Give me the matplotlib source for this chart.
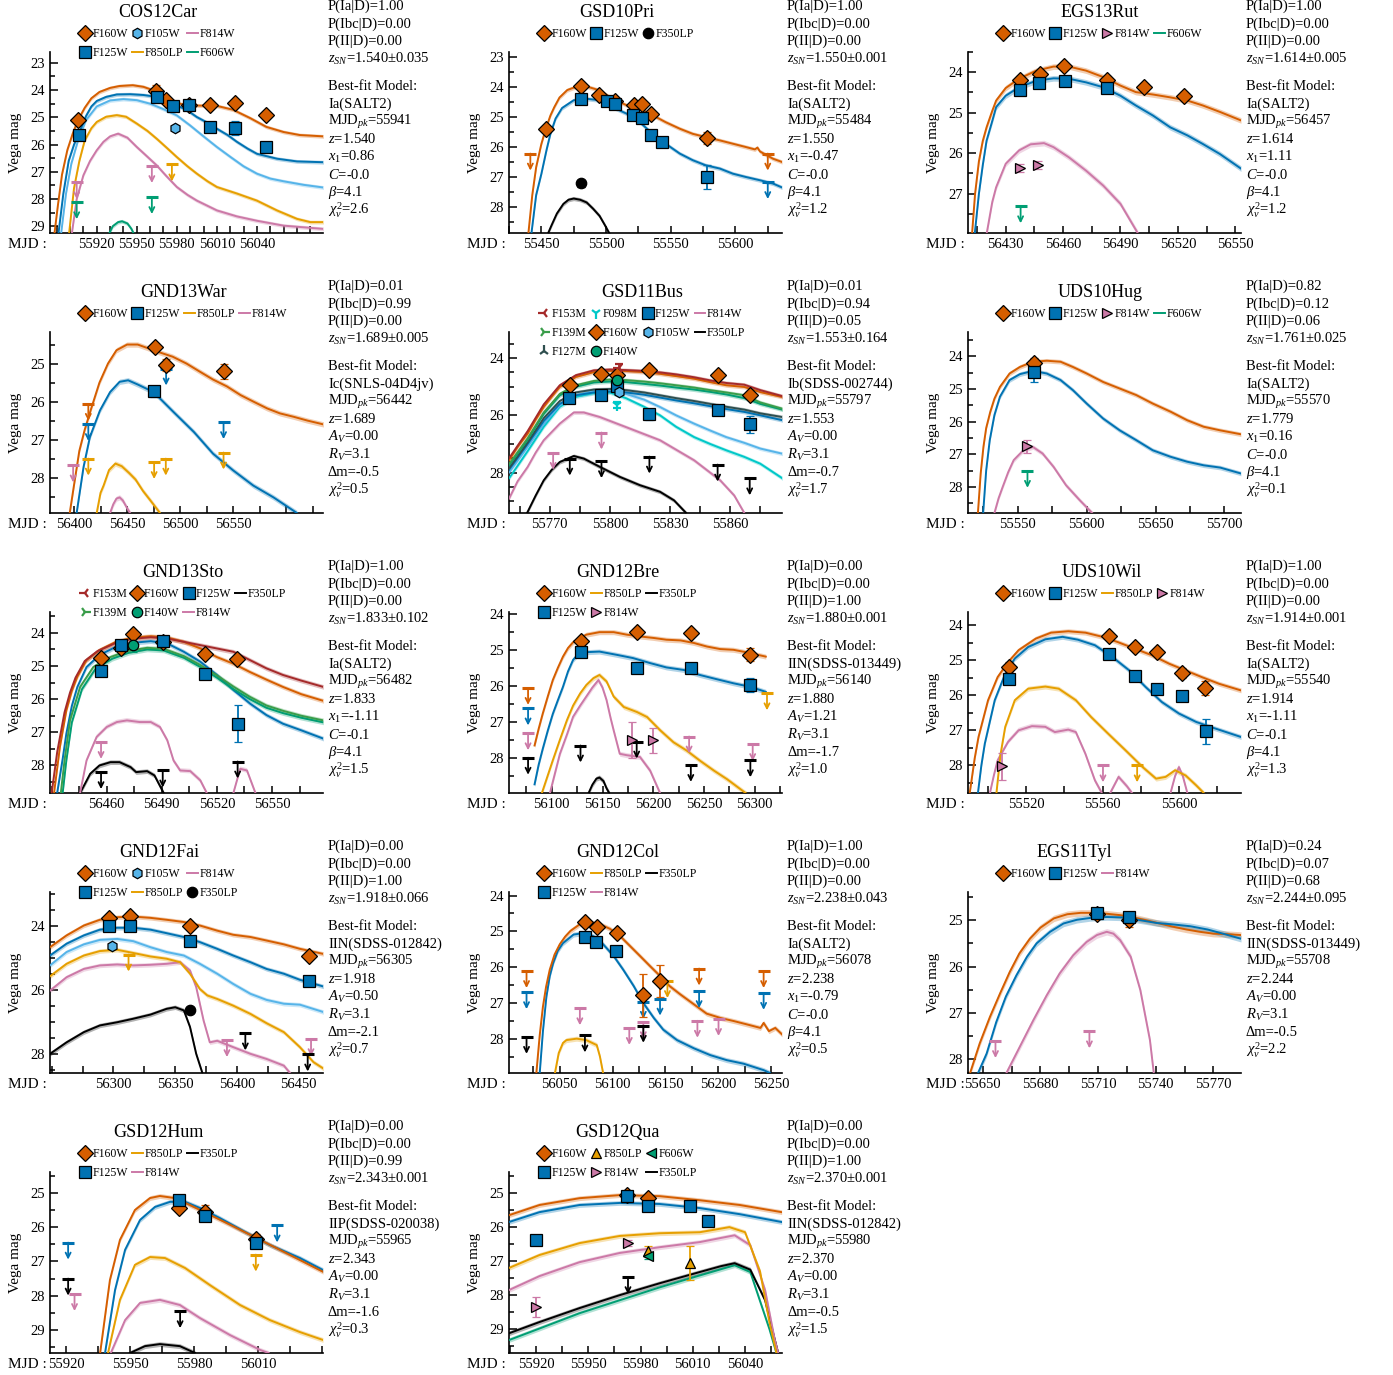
import numpy as np
import matplotlib
matplotlib.use("Agg")
import matplotlib.pyplot as plt
from matplotlib.lines import Line2D
from matplotlib.ticker import MultipleLocator, FixedLocator

nan = np.nan

# ---------------- COS12Car ----------------
CAR_F160W = [(55888, 29.4), (55891, 28.2), (55894, 27.1), (55898, 26.2), (55902, 25.6), (55906, 25.1), (55911, 24.65),
             (55916, 24.3), (55922, 24.07), (55930, 23.92), (55937, 23.85), (55947, 23.82), (55955, 23.88), (55962, 24.0),
             (55970, 24.25), (55978, 24.45), (55987, 24.55), (55997, 24.57), (56010, 24.58), (56022, 24.72), (56035, 25.03),
             (56047, 25.35), (56060, 25.54), (56072, 25.65), (56090, 25.7)]
CAR_F125W = [(55891, 29.4), (55895, 27.8), (55899, 26.6), (55903, 26.0), (55907, 25.55), (55912, 24.95), (55916, 24.6),
             (55920, 24.4), (55927, 24.25), (55935, 24.16), (55945, 24.15), (55955, 24.18), (55965, 24.25), (55972, 24.38),
             (55980, 24.56), (55988, 24.75), (55995, 24.99), (56003, 25.2), (56010, 25.42), (56018, 25.65), (56025, 25.9),
             (56033, 26.15), (56040, 26.34), (56055, 26.52), (56070, 26.62), (56090, 26.65)]
CAR_F105W = [(55893, 29.4), (55897, 27.8), (55901, 26.7), (55906, 25.85), (55912, 25.1), (55920, 24.6), (55930, 24.38),
             (55940, 24.33), (55950, 24.37), (55960, 24.5), (55970, 24.7), (55980, 24.93), (55990, 25.3), (56000, 25.7),
             (56010, 26.09), (56020, 26.45), (56030, 26.8), (56040, 27.07), (56050, 27.25), (56060, 27.35), (56075, 27.48),
             (56090, 27.58)]
CAR_F850LP = [(55899, 29.4), (55903, 27.6), (55907, 26.6), (55911, 25.85), (55916, 25.4), (55920, 25.17), (55927, 24.98),
              (55935, 24.92), (55942, 24.98), (55950, 25.23), (55958, 25.5), (55965, 25.79), (55972, 26.1), (55980, 26.46),
              (55988, 26.8), (55995, 27.07), (56003, 27.35), (56010, 27.56), (56025, 27.8), (56040, 28.06), (56055, 28.42),
              (56070, 28.73), (56080, 28.85), (56090, 28.85)]
CAR_F814W = [(55901, 29.4), (55905, 28.0), (55910, 27.13), (55915, 26.6), (55920, 26.21), (55925, 25.9), (55930, 25.7),
             (55936, 25.6), (55943, 25.75), (55950, 26.09), (55958, 26.45), (55965, 26.77), (55972, 27.15), (55980, 27.56),
             (55988, 27.85), (55995, 28.06), (56010, 28.42), (56025, 28.64), (56040, 28.8), (56060, 28.98), (56090, 29.1)]
CAR_F606W = [(55929, 29.3), (55932, 29.0), (55936, 28.85), (55939, 28.82), (55943, 28.9), (55946, 29.1), (55948, 29.3)]
CAR_PTS_F160W = [(55906.3, 25.11, 0.08), (55964.5, 24.03, 0.2), (55971.8, 24.35, 0.08), (55989.3, 24.53, 0.08),
                 (56004.5, 24.53, 0.08), (56023.3, 24.47, 0.08), (56046.8, 24.9, 0.08)]
CAR_PTS_F125W = [(55906.8, 25.64, 0.1), (55965, 24.25, 0.2), (55976.8, 24.6, 0.08), (55988.8, 24.56, 0.1),
                 (56005, 25.36, 0.08), (56023.8, 25.39, 0.25), (56046.8, 26.09, 0.08)]
CAR_PTS_F105W = [(55978.8, 25.38, 0.05)]
CAR_LIM = [("F814W", 55905, 27.38), ("F814W", 55961.3, 26.79), ("F850LP", 55976.3, 26.73),
           ("F606W", 55905, 28.12), ("F606W", 55961.3, 27.93)]
CAR_XT = [55920, 55950, 55980, 56010, 56040]
CAR_TEXT = ["P(Ia|D)=1.00", "P(Ibc|D)=0.00", "P(II|D)=0.00", r"$z_{SN}$=1.540±0.035", "Best-fit Model:", "Ia(SALT2)",
            r"MJD$_{pk}$=55941", r"$z$=1.540", r"$x_1$=0.86", r"$\mathit{C}$=-0.0", r"$\beta$=4.1", r"$\chi^2_\nu$=2.6"]

# ---------------- GSD10Pri ----------------
PRI_F160W = [(55439.7, 29.0), (55443, 27.6), (55446, 26.67), (55450, 25.9), (55453.4, 25.4), (55457, 24.95), (55460, 24.67),
             (55464, 24.35), (55470, 24.1), (55475, 24.02), (55485, 23.98), (55495, 24.11), (55505, 24.39), (55516, 24.61),
             (55526, 24.72), (55536, 24.94), (55546, 25.17), (55557, 25.39), (55567, 25.56), (55577, 25.67), (55588, 25.78),
             (55598, 25.89), (55608, 26.0), (55615, 26.08), (55617, 26.02), (55619, 26.15), (55629, 26.39), (55636, 26.5)]
PRI_F125W = [(55442, 29.0), (55446, 27.6), (55450, 26.9), (55454, 26.1), (55457, 25.56), (55461, 25.05), (55466, 24.7),
             (55475, 24.44), (55485, 24.39), (55495, 24.44), (55505, 24.67), (55516, 24.89), (55526, 25.17), (55536, 25.56),
             (55546, 25.89), (55557, 26.22), (55567, 26.44), (55577, 26.61), (55588, 26.72), (55598, 26.89), (55608, 27.0),
             (55619, 27.11), (55629, 27.22), (55636, 27.35)]
PRI_F350LP = [(55454, 29.0), (55458, 28.6), (55462, 28.22), (55467, 27.9), (55471, 27.76), (55475, 27.72), (55480, 27.76),
              (55485, 27.85), (55490, 28.06), (55495, 28.3), (55499, 28.6), (55504, 29.0)]
PRI_PTS_F160W = [(55453.4, 25.4, 0.08), (55480.3, 23.98, 0.08), (55494.7, 24.28, 0.08), (55506.8, 24.48, 0.08),
                 (55521.6, 24.61, 0.08), (55527.5, 24.56, 0.08), (55534.8, 24.89, 0.08), (55577.9, 25.7, 0.2)]
PRI_PTS_F125W = [(55480.3, 24.39, 0.08), (55500.4, 24.48, 0.08), (55506.8, 24.56, 0.08), (55520.5, 24.94, 0.08),
                 (55527.5, 25.03, 0.08), (55534.5, 25.61, 0.08), (55543, 25.83, 0.08), (55577.9, 27.0, 0.4)]
PRI_PTS_F350LP = [(55480.3, 27.21, 0.12)]
PRI_LIM = [("F160W", 55441.5, 26.22), ("F160W", 55625, 26.22), ("F125W", 55625, 27.17)]
PRI_XT = [55450, 55500, 55550, 55600]
PRI_TEXT = ["P(Ia|D)=1.00", "P(Ibc|D)=0.00", "P(II|D)=0.00", r"$z_{SN}$=1.550±0.001", "Best-fit Model:", "Ia(SALT2)",
            r"MJD$_{pk}$=55484", r"$z$=1.550", r"$x_1$=-0.47", r"$\mathit{C}$=-0.0", r"$\beta$=4.1", r"$\chi^2_\nu$=1.2"]

# ---------------- EGS13Rut ----------------
RUT_F160W = [(56412.4, 28.0), (56414, 27.0), (56416, 26.2), (56418, 25.7), (56420, 25.36), (56423, 24.95), (56425, 24.7),
             (56430, 24.39), (56437, 24.16), (56446, 23.96), (56455, 23.86), (56463, 23.86), (56472, 23.96), (56481, 24.12),
             (56490, 24.33), (56498, 24.49), (56507, 24.55), (56516, 24.62), (56525, 24.7), (56533, 24.82), (56542, 24.98),
             (56553, 25.19)]
RUT_F125W = [(56413.8, 28.0), (56416, 27.0), (56418, 26.3), (56420, 25.69), (56423, 25.2), (56425, 24.86), (56430, 24.58),
             (56437, 24.37), (56446, 24.21), (56455, 24.15), (56463, 24.16), (56472, 24.25), (56481, 24.37), (56490, 24.58),
             (56498, 24.82), (56507, 25.07), (56516, 25.36), (56525, 25.56), (56533, 25.77), (56542, 26.02), (56553, 26.38)]
RUT_F814W = [(56420, 28.0), (56423, 27.2), (56425, 26.84), (56430, 26.26), (56437, 25.93), (56443, 25.78), (56450, 25.75),
             (56455, 25.85), (56463, 26.1), (56472, 26.43), (56481, 26.8), (56490, 27.25), (56499, 27.97)]
RUT_PTS_F160W = [(56437.3, 24.18, 0.08), (56447.8, 24.04, 0.08), (56460.5, 23.84, 0.08), (56483.2, 24.18, 0.08),
                 (56502.4, 24.37, 0.08), (56523.4, 24.58, 0.08)]
RUT_PTS_F125W = [(56437.6, 24.43, 0.08), (56447.2, 24.26, 0.08), (56460.9, 24.22, 0.08), (56483.2, 24.4, 0.08)]
RUT_PTS_F814W = [(56437.6, 26.37, 0.1), (56446.9, 26.3, 0.1)]
RUT_LIM = [("F606W", 56437.8, 27.31)]
RUT_XT = [56430, 56460, 56490, 56520, 56550]
RUT_TEXT = ["P(Ia|D)=1.00", "P(Ibc|D)=0.00", "P(II|D)=0.00", r"$z_{SN}$=1.614±0.005", "Best-fit Model:", "Ia(SALT2)",
            r"MJD$_{pk}$=56457", r"$z$=1.614", r"$x_1$=1.11", r"$\mathit{C}$=-0.0", r"$\beta$=4.1", r"$\chi^2_\nu$=1.2"]

# ---------------- GND13War ----------------
WAR_F160W = [(56396, 28.93), (56400, 28.2), (56405, 27.3), (56410, 26.75), (56416, 26.2), (56424, 25.5), (56432, 25.0),
             (56440, 24.65), (56450, 24.5), (56460, 24.5), (56470, 24.6), (56480, 24.7), (56493, 24.82), (56506, 25.0),
             (56519, 25.22), (56531, 25.42), (56544, 25.6), (56557, 25.83), (56569, 26.0), (56582, 26.18), (56594, 26.31),
             (56607, 26.4), (56620, 26.5), (56635, 26.6)]
WAR_F125W = [(56402.5, 28.93), (56409, 27.72), (56415, 26.93), (56424.5, 26.23), (56434, 25.75), (56443, 25.48),
             (56451, 25.44), (56460, 25.55), (56475, 25.75), (56494, 26.28), (56513, 26.8), (56531, 27.37), (56550, 27.81),
             (56569, 28.21), (56588, 28.52), (56610, 28.93)]
WAR_F850LP = [(56421.4, 28.93), (56425, 28.4), (56428, 28.2), (56433, 27.8), (56439, 27.63), (56445, 27.7), (56452, 27.88),
              (56458, 28.05), (56465, 28.35), (56472, 28.6), (56481, 28.93)]
WAR_F814W = [(56434, 28.93), (56437, 28.7), (56440, 28.55), (56443, 28.52), (56446, 28.6), (56450, 28.8), (56452.8, 28.93)]
WAR_PTS_F160W = [(56476.4, 24.56, 0.08), (56486.8, 25.04, 0.15), (56541.5, 25.2, 0.2)]
WAR_PTS_F125W = [(56475.8, 25.73, 0.15)]
WAR_LIM = [("F160W", 56413.5, 26.06), ("F125W", 56413.5, 26.59), ("F125W", 56486.8, 25.13), ("F125W", 56540.9, 26.54),
           ("F850LP", 56413.5, 27.5), ("F850LP", 56475.5, 27.59), ("F850LP", 56486.5, 27.5), ("F850LP", 56540.9, 27.34),
           ("F814W", 56399.2, 27.68)]
WAR_XT = [56400, 56450, 56500, 56550]
WAR_TEXT = ["P(Ia|D)=0.01", "P(Ibc|D)=0.99", "P(II|D)=0.00", r"$z_{SN}$=1.689±0.005", "Best-fit Model:", "Ic(SNLS-04D4jv)",
            r"MJD$_{pk}$=56442", r"$z$=1.689", r"$A_V$=0.00", r"$R_V$=3.1", "Δm=-0.5", r"$\chi^2_\nu$=0.5"]

# ---------------- GSD11Bus ----------------
BUS_F160W = [(55749.7, 27.57), (55754, 27.1), (55759, 26.64), (55763, 26.15), (55767, 25.71), (55771, 25.35), (55775, 25.01),
             (55779, 24.85), (55783, 24.66), (55792, 24.49), (55800, 24.45), (55808, 24.45), (55817, 24.49), (55825, 24.55),
             (55833, 24.63), (55842, 24.72), (55850, 24.84), (55858, 24.95), (55867, 25.01), (55875, 25.19), (55886, 25.36)]
BUS_F153M = [(55749.7, 27.5), (55759, 26.55), (55767, 25.62), (55775, 24.95), (55783, 24.6), (55792, 24.43), (55800, 24.4),
             (55808, 24.42), (55817, 24.45), (55825, 24.5), (55833, 24.57), (55842, 24.67), (55850, 24.78), (55858, 24.87),
             (55867, 24.93), (55875, 25.12), (55886, 25.33)]
BUS_F139M = [(55749.7, 27.7), (55759, 26.8), (55767, 25.9), (55775, 25.25), (55783, 24.95), (55792, 24.8), (55800, 24.75),
             (55808, 24.77), (55817, 24.82), (55825, 24.88), (55833, 24.95), (55842, 25.03), (55850, 25.12), (55858, 25.2),
             (55867, 25.3), (55875, 25.55), (55886, 25.77)]
BUS_F140W = [(55749.7, 27.75), (55759, 26.85), (55767, 25.95), (55775, 25.3), (55783, 25.0), (55792, 24.85), (55800, 24.82),
             (55808, 24.84), (55817, 24.9), (55825, 24.96), (55833, 25.03), (55842, 25.1), (55850, 25.18), (55858, 25.27),
             (55867, 25.4), (55875, 25.6), (55886, 25.8)]
BUS_F127M = [(55749.7, 27.85), (55759, 26.95), (55767, 26.1), (55775, 25.5), (55783, 25.2), (55792, 25.1), (55800, 25.08),
             (55808, 25.12), (55817, 25.2), (55825, 25.3), (55833, 25.4), (55842, 25.5), (55850, 25.6), (55858, 25.7),
             (55867, 25.8), (55875, 25.93), (55886, 26.06)]
BUS_F125W = [(55749.7, 27.9), (55759, 27.0), (55767, 26.2), (55775, 25.6), (55783, 25.3), (55792, 25.2), (55800, 25.17),
             (55808, 25.2), (55817, 25.28), (55825, 25.38), (55833, 25.48), (55842, 25.58), (55850, 25.68), (55858, 25.78),
             (55867, 25.88), (55875, 26.0), (55886, 26.17)]
BUS_F105W = [(55749.7, 28.0), (55759, 27.1), (55767, 26.3), (55775, 25.65), (55783, 25.3), (55792, 25.15), (55800, 25.12),
             (55808, 25.25), (55817, 25.45), (55825, 25.71), (55833, 26.0), (55842, 26.29), (55850, 26.53), (55858, 26.76),
             (55867, 26.96), (55875, 27.16), (55886, 27.34)]
BUS_F098M = [(55749.7, 28.2), (55759, 27.25), (55767, 26.4), (55775, 25.7), (55783, 25.35), (55792, 25.22), (55800, 25.2),
             (55808, 25.4), (55817, 25.7), (55825, 26.0), (55833, 26.4), (55842, 26.76), (55850, 27.0), (55858, 27.22),
             (55867, 27.45), (55875, 27.69), (55886, 28.2)]
BUS_F814W = [(55749.7, 28.91), (55754, 28.3), (55759, 27.8), (55763, 27.3), (55767, 26.87), (55775, 26.29), (55782, 25.9),
             (55787, 25.9), (55795, 26.06), (55808, 26.41), (55825, 26.87), (55842, 27.57), (55855, 28.27), (55862, 28.8),
             (55867, 29.41)]
BUS_F350LP = [(55758.7, 29.41), (55763, 28.8), (55767, 28.27), (55771, 27.9), (55775, 27.63), (55782, 27.42), (55787, 27.51),
              (55795, 27.8), (55805, 28.15), (55815, 28.44), (55825, 28.67), (55832, 28.97), (55838, 29.41)]
BUS_PTS_F160W = [(55780, 24.93, 0.08), (55795.8, 24.55, 0.08), (55803.7, 24.58, 0.08), (55819.7, 24.43, 0.08),
                 (55853.7, 24.58, 0.08), (55870, 25.3, 0.1)]
BUS_PTS_F125W = [(55779.5, 25.38, 0.1), (55795.8, 25.28, 0.08), (55803.7, 24.99, 0.1), (55819.7, 25.97, 0.2),
                 (55853.7, 25.83, 0.12), (55869.7, 26.31, 0.3)]
BUS_PTS_F140W = [(55803.7, 24.76, 0.1)]
BUS_PTS_F105W = [(55804.5, 25.19, 0.05)]
BUS_PTS_F153M = [(55804.3, 24.34, 0.12)]
BUS_PTS_F098M = [(55803.7, 25.65, 0.1)]
BUS_LIM = [("F814W", 55771.7, 27.31), ("F814W", 55795.8, 26.6), ("F350LP", 55780, 27.51), ("F350LP", 55795.8, 27.6),
           ("F350LP", 55819.7, 27.44), ("F350LP", 55853.7, 27.72), ("F350LP", 55869.7, 28.2)]
BUS_XT = [55770, 55800, 55830, 55860]
BUS_TEXT = ["P(Ia|D)=0.01", "P(Ibc|D)=0.94", "P(II|D)=0.05", r"$z_{SN}$=1.553±0.164", "Best-fit Model:", "Ib(SDSS-002744)",
            r"MJD$_{pk}$=55797", r"$z$=1.553", r"$A_V$=0.00", r"$R_V$=3.1", "Δm=-0.7", r"$\chi^2_\nu$=1.7"]

# ---------------- UDS10Hug ----------------
HUG_F160W = [(55521, 28.8), (55523, 27.6), (55525, 26.78), (55527, 26.2), (55530, 25.7), (55533, 25.3), (55537, 24.94),
             (55544, 24.53), (55551.5, 24.33), (55561, 24.17), (55571, 24.14), (55581, 24.17), (55590, 24.33), (55600, 24.53),
             (55612, 24.79), (55624, 24.99), (55636, 25.19), (55648, 25.45), (55661, 25.7), (55673, 25.96), (55685, 26.16),
             (55697, 26.27), (55712, 26.39)]
HUG_F125W = [(55524.8, 28.8), (55527, 27.5), (55529.6, 26.57), (55533, 25.8), (55537, 25.24), (55544, 24.73),
             (55551.5, 24.55), (55561, 24.45), (55571, 24.53), (55581, 24.73), (55590, 25.04), (55600, 25.45), (55612, 25.91),
             (55624, 26.27), (55636, 26.57), (55648, 26.88), (55661, 27.08), (55673, 27.23), (55685, 27.34), (55697, 27.41),
             (55712, 27.59)]
HUG_F814W = [(55533, 28.8), (55536, 28.35), (55539, 28.0), (55543, 27.55), (55547, 27.18), (55554, 26.88), (55561, 26.78),
             (55568, 26.98), (55576, 27.39), (55585, 27.95), (55595, 28.41), (55604, 28.8)]
HUG_PTS_F160W = [(55561.4, 24.2, 0.15)]
HUG_PTS_F125W = [(55561.9, 24.48, 0.3)]
HUG_PTS_F814W = [(55556.8, 26.76, 0.2)]
HUG_LIM = [("F606W", 55557, 27.51)]
HUG_XT = [55550, 55600, 55650, 55700]
HUG_TEXT = ["P(Ia|D)=0.82", "P(Ibc|D)=0.12", "P(II|D)=0.06", r"$z_{SN}$=1.761±0.025", "Best-fit Model:", "Ia(SALT2)",
            r"MJD$_{pk}$=55570", r"$z$=1.779", r"$x_1$=0.16", r"$\mathit{C}$=-0.0", r"$\beta$=4.1", r"$\chi^2_\nu$=0.1"]

# ---------------- GND13Sto ----------------
STO_F160W = [(56431.3, 28.83), (56434.5, 27.44), (56438, 26.34), (56441, 25.75), (56444, 25.32), (56449, 24.82),
             (56456, 24.52), (56465, 24.27), (56474, 24.14), (56484, 24.1), (56493, 24.14), (56502, 24.27), (56511, 24.47),
             (56520, 24.73), (56529, 24.93), (56538, 25.18), (56547, 25.41), (56556, 25.63), (56566, 25.85), (56578, 26.05)]
STO_F153M = [(56430, 28.83), (56433, 27.6), (56437, 26.4), (56440, 25.8), (56443, 25.35), (56448, 24.85), (56455, 24.55),
             (56465, 24.3), (56474, 24.18), (56484, 24.13), (56493, 24.17), (56502, 24.27), (56511, 24.37), (56520, 24.47),
             (56529, 24.57), (56538, 24.82), (56547, 25.07), (56556, 25.27), (56566, 25.44), (56578, 25.63)]
STO_F139M = [(56435, 28.83), (56437, 27.85), (56440, 26.64), (56445.5, 25.63), (56452.7, 25.03), (56462, 24.73),
             (56471, 24.55), (56482, 24.45), (56491, 24.48), (56502, 24.7), (56511, 24.97), (56520, 25.28), (56529, 25.62),
             (56538, 25.93), (56547, 26.19), (56556, 26.35), (56566, 26.5), (56578, 26.64)]
STO_F140W = [(56436, 28.83), (56438, 27.85), (56441, 26.7), (56446.5, 25.7), (56453.7, 25.1), (56463, 24.78), (56472, 24.6),
             (56482, 24.5), (56491, 24.53), (56502, 24.75), (56511, 25.03), (56520, 25.35), (56529, 25.7), (56538, 26.0),
             (56547, 26.26), (56556, 26.42), (56566, 26.56), (56578, 26.7)]
STO_F125W = [(56433, 28.83), (56436, 27.8), (56438, 27.04), (56441, 26.2), (56444, 25.63), (56449, 25.03), (56456, 24.67),
             (56465, 24.42), (56474, 24.3), (56484, 24.25), (56493, 24.32), (56502, 24.57), (56511, 24.87), (56520, 25.27),
             (56529, 25.72), (56538, 26.13), (56547, 26.48), (56556, 26.74), (56566, 26.94), (56578, 27.19)]
STO_F814W = [(56445.5, 28.83), (56449, 27.85), (56454.5, 27.14), (56460, 26.84), (56465.5, 26.69), (56471, 26.64),
             (56478, 26.69), (56484, 26.69), (56489, 26.84), (56493, 27.24), (56496.4, 27.85), (56500, 28.15),
             (56505.5, 28.17), (56511, 28.45), (56514.5, 28.83), (nan, nan), (56529, 28.83), (56532.7, 28.1),
             (56536.4, 28.15), (56541, 28.83)]
STO_F350LP = [(56445.5, 28.83), (56451, 28.25), (56456, 28.0), (56462, 27.9), (56467, 27.9), (56473, 28.05), (56476, 28.2),
              (56482, 28.17), (56486, 28.3), (56491, 28.83)]
STO_PTS_F160W = [(56456.9, 24.75, 0.08), (56467.6, 24.47, 0.08), (56474.5, 24.02, 0.08), (56490.5, 24.27, 0.08),
                 (56513.6, 24.64, 0.08), (56530.9, 24.79, 0.08)]
STO_PTS_F125W = [(56456.9, 25.14, 0.08), (56467.8, 24.37, 0.08), (56490.5, 24.25, 0.08), (56513.6, 25.23, 0.08),
                 (56531.3, 26.74, 0.55)]
STO_PTS_F140W = [(56474.5, 24.37, 0.2)]
STO_LIM = [("F814W", 56456.9, 27.29), ("F350LP", 56456.9, 28.2), ("F350LP", 56490.5, 28.15), ("F350LP", 56531.3, 27.88)]
STO_XT = [56460, 56490, 56520, 56550]
STO_TEXT = ["P(Ia|D)=1.00", "P(Ibc|D)=0.00", "P(II|D)=0.00", r"$z_{SN}$=1.833±0.102", "Best-fit Model:", "Ia(SALT2)",
            r"MJD$_{pk}$=56482", r"$z$=1.833", r"$x_1$=-1.11", r"$\mathit{C}$=-0.1", r"$\beta$=4.1", r"$\chi^2_\nu$=1.5"]

# ---------------- GND12Bre ----------------
BRE_F160W = [(56083, 27.66), (56087, 27.2), (56091, 26.78), (56096, 26.3), (56101, 25.84), (56106, 25.5), (56111, 25.19),
             (56116, 24.95), (56121, 24.79), (56134, 24.58), (56147, 24.51), (56161, 24.51), (56174, 24.58), (56187, 24.63),
             (56200, 24.67), (56213, 24.72), (56227, 24.74), (56240, 24.81), (56253, 24.91), (56266, 24.98), (56279, 25.0),
             (56292, 25.07), (56311, 25.19)]
BRE_F125W = [(56083, 28.74), (56087, 28.2), (56091, 27.76), (56096, 27.25), (56101, 26.78), (56106, 26.4), (56111, 26.03),
             (56116, 25.6), (56121, 25.28), (56126, 25.12), (56131, 25.07), (56147, 25.05), (56164, 25.14), (56180, 25.23),
             (56197, 25.37), (56213, 25.49), (56230, 25.56), (56246, 25.7), (56263, 25.82), (56279, 25.93), (56296, 26.03),
             (56311, 26.17)]
BRE_F850LP = [(56090, 29.0), (56101, 28.07), (56108, 27.5), (56115, 26.95), (56121, 26.55), (56128, 26.21), (56134, 25.98),
              (56141, 25.79), (56147, 25.7), (56154, 25.88), (56161, 26.3), (56171, 26.59), (56184, 26.73), (56194, 26.87),
              (56207, 27.24), (56220, 27.57), (56233, 27.8), (56246, 28.08), (56260, 28.36), (56273, 28.6), (56292, 29.0)]
BRE_F814W = [(56098, 29.0), (56108, 27.89), (56115, 27.35), (56121, 26.86), (56128, 26.55), (56134, 26.3), (56140, 26.05),
             (56146, 25.84), (56150, 26.05), (56154, 26.4), (56158, 26.9), (56161, 27.24), (56167, 27.89), (56174, 27.93),
             (56187, 27.98), (56197, 28.36), (56207, 29.0)]
BRE_F350LP = [(56136, 29.0), (56140, 28.75), (56144, 28.58), (56147, 28.55), (56151, 28.65), (56154, 28.85), (56157, 29.0)]
BRE_PTS_F160W = [(56128.6, 24.76, 0.08), (56183.7, 24.51, 0.08), (56237.1, 24.53, 0.08), (56295.8, 25.14, 0.18)]
BRE_PTS_F125W = [(56128.6, 25.07, 0.08), (56183.7, 25.5, 0.08), (56237.1, 25.5, 0.08), (56295.8, 25.98, 0.2)]
BRE_PTS_F814W = [(56179.4, 27.52, 0.5), (56199.5, 27.52, 0.35)]
BRE_LIM = [("F160W", 56076.6, 26.06), ("F125W", 56076.6, 26.63), ("F814W", 56076.6, 27.32), ("F814W", 56235.4, 27.41),
           ("F814W", 56298.1, 27.62), ("F350LP", 56076.6, 28.0), ("F350LP", 56128.3, 27.66), ("F350LP", 56183.7, 27.55),
           ("F350LP", 56237.1, 28.2), ("F350LP", 56295.8, 28.07), ("F850LP", 56312.2, 26.21)]
BRE_XT = [56100, 56150, 56200, 56250, 56300]
BRE_TEXT = ["P(Ia|D)=0.00", "P(Ibc|D)=0.00", "P(II|D)=1.00", r"$z_{SN}$=1.880±0.001", "Best-fit Model:", "IIN(SDSS-013449)",
            r"MJD$_{pk}$=56140", r"$z$=1.880", r"$A_V$=1.21", r"$R_V$=3.1", "Δm=-1.7", r"$\chi^2_\nu$=1.0"]

# ---------------- UDS10Wil ----------------
WIL_F160W = [(55490.4, 28.79), (55493, 27.8), (55495, 27.19), (55500, 26.14), (55505, 25.48), (55510.5, 25.05),
             (55516, 24.71), (55525, 24.38), (55533, 24.21), (55542, 24.17), (55551, 24.21), (55560, 24.33), (55568, 24.48),
             (55577, 24.67), (55586, 24.86), (55595, 25.1), (55603.5, 25.29), (55612, 25.48), (55621, 25.67), (55632.5, 25.86)]
WIL_F125W = [(55494.7, 28.79), (55496.5, 28.0), (55498.3, 27.38), (55503.5, 26.14), (55509, 25.38), (55514, 24.95),
             (55521, 24.62), (55530, 24.4), (55539, 24.33), (55547, 24.41), (55556, 24.57), (55565, 24.9), (55574, 25.29),
             (55582.5, 25.76), (55591, 26.19), (55600, 26.52), (55609, 26.76), (55617.5, 26.92), (55632.5, 27.19)]
WIL_F850LP = [(55504.4, 28.79), (55506.5, 27.7), (55509, 26.9), (55514, 26.14), (55521, 25.81), (55530, 25.75),
              (55537, 25.81), (55546, 26.14), (55554, 26.62), (55563, 27.1), (55572, 27.57), (55581, 28.05), (55588, 28.38),
              (55593, 28.33), (55598, 28.14), (55603.5, 28.29), (55609, 28.57), (55613, 28.79)]
WIL_F814W = [(55501, 28.79), (55503, 28.3), (55505, 27.86), (55510.5, 27.33), (55516, 27.0), (55523, 26.88), (55530, 26.9),
             (55535, 27.05), (55542, 26.98), (55546, 27.05), (55551, 27.67), (55556, 28.43), (55559.6, 28.79), (nan, nan),
             (55564, 28.79), (55568.4, 28.33), (55572.8, 28.6), (55575.4, 28.79), (nan, nan), (55595.6, 28.79),
             (55598, 28.3), (55600, 28.05), (55602, 28.3), (55604.4, 28.79)]
WIL_PTS_F160W = [(55511, 25.19, 0.15), (55563.5, 24.3, 0.08), (55576.8, 24.63, 0.08), (55588.6, 24.76, 0.08),
                 (55601.4, 25.36, 0.15), (55613.7, 25.79, 0.2)]
WIL_PTS_F125W = [(55511, 25.54, 0.08), (55563.5, 24.81, 0.08), (55576.8, 25.45, 0.08), (55588.6, 25.83, 0.08),
                 (55601.4, 26.02, 0.1), (55614, 27.03, 0.35)]
WIL_PTS_F814W = [(55507.4, 28.03, 0.38)]
WIL_LIM = [("F814W", 55560.2, 28.0), ("F850LP", 55578.1, 28.0)]
WIL_XT = [55520, 55560, 55600]
WIL_TEXT = ["P(Ia|D)=1.00", "P(Ibc|D)=0.00", "P(II|D)=0.00", r"$z_{SN}$=1.914±0.001", "Best-fit Model:", "Ia(SALT2)",
            r"MJD$_{pk}$=55540", r"$z$=1.914", r"$x_1$=-1.11", r"$\mathit{C}$=-0.1", r"$\beta$=4.1", r"$\chi^2_\nu$=1.3"]

# ---------------- GND12Fai ----------------
FAI_F160W = [(56248.6, 24.66), (56262, 24.29), (56276, 23.98), (56289, 23.8), (56303, 23.72), (56316, 23.7), (56330, 23.74),
             (56343, 23.8), (56357, 23.87), (56370, 23.98), (56384, 24.14), (56397, 24.27), (56411, 24.34), (56424, 24.45),
             (56438, 24.57), (56451, 24.71), (56470, 24.87)]
FAI_F125W = [(56248.6, 24.92), (56262, 24.55), (56276, 24.29), (56289, 24.11), (56303, 24.05), (56316, 24.05),
             (56330, 24.11), (56343, 24.22), (56357, 24.34), (56370, 24.5), (56384, 24.71), (56397, 24.92), (56411, 25.13),
             (56424, 25.34), (56438, 25.49), (56451, 25.68), (56470, 25.89)]
FAI_F105W = [(56248.6, 25.23), (56262, 24.81), (56276, 24.57), (56289, 24.43), (56303, 24.4), (56316, 24.47), (56330, 24.66),
             (56343, 24.81), (56357, 24.92), (56370, 25.18), (56384, 25.49), (56397, 25.81), (56411, 26.12), (56424, 26.31),
             (56438, 26.43), (56451, 26.46), (56470, 26.69)]
FAI_F850LP = [(56248.6, 25.57), (56262, 25.18), (56276, 24.92), (56289, 24.78), (56303, 24.74), (56316, 24.84),
              (56330, 24.95), (56343, 25.02), (56354, 25.13), (56362, 25.49), (56370, 25.97), (56376, 26.17), (56384, 26.28),
              (56397, 26.49), (56411, 26.75), (56424, 27.04), (56438, 27.32), (56451, 27.79), (56462, 28.26), (56470, 28.46)]
FAI_F814W = [(56248.6, 26.02), (56262, 25.6), (56276, 25.34), (56289, 25.23), (56303, 25.2), (56316, 25.23), (56330, 25.21),
             (56343, 25.18), (56354, 25.13), (56362, 25.39), (56367, 25.91), (56373, 26.96), (56378, 27.64), (56384, 27.59),
             (56397, 27.79), (56411, 28.0), (56424, 28.16), (56438, 28.37), (56443, 28.6)]
FAI_F350LP = [(56248.6, 28.0), (56262, 27.64), (56276, 27.32), (56289, 27.11), (56303, 27.01), (56316, 26.9),
              (56330, 26.77), (56343, 26.59), (56350, 26.54), (56357, 26.64), (56362, 27.16), (56367, 28.0), (56372, 28.6)]
FAI_PTS_F160W = [(56296.5, 23.74, 0.06), (56313, 23.67, 0.06), (56362.2, 23.98, 0.06), (56458.1, 24.92, 0.06)]
FAI_PTS_F125W = [(56296.5, 24.01, 0.06), (56313, 23.98, 0.06), (56362.2, 24.45, 0.06), (56458.1, 25.72, 0.06)]
FAI_PTS_F105W = [(56298.6, 24.61, 0.05)]
FAI_PTS_F350LP = [(56362.2, 26.62, 0.1)]
FAI_LIM = [("F850LP", 56312.2, 24.89), ("F814W", 56391.9, 27.57), ("F814W", 56460, 27.54), ("F350LP", 56406.8, 27.36),
           ("F350LP", 56457.3, 28.02)]
FAI_XT = [56300, 56350, 56400, 56450]
FAI_TEXT = ["P(Ia|D)=0.00", "P(Ibc|D)=0.00", "P(II|D)=1.00", r"$z_{SN}$=1.918±0.066", "Best-fit Model:", "IIN(SDSS-012842)",
            r"MJD$_{pk}$=56305", r"$z$=1.918", r"$A_V$=0.50", r"$R_V$=3.1", "Δm=-2.1", r"$\chi^2_\nu$=0.7"]

# ---------------- GND12Col ----------------
COL_F160W = [(56027.8, 28.96), (56031, 27.9), (56034, 27.11), (56037, 26.55), (56040.5, 26.07), (56045, 25.65),
             (56050, 25.36), (56055, 25.15), (56060, 24.99), (56069, 24.8), (56078.5, 24.76), (56088, 24.8), (56097.5, 24.93),
             (56107, 25.13), (56116.5, 25.41), (56126, 25.69), (56135.4, 25.97), (56145, 26.25), (56154, 26.53),
             (56164, 26.76), (56177, 27.04), (56189, 27.3), (56202, 27.42), (56215, 27.51), (56227, 27.6), (56240, 27.7),
             (56243, 27.56), (56248, 27.79), (56254, 27.7), (56260.4, 27.88)]
COL_F125W = [(56031, 28.96), (56034, 27.8), (56037.3, 26.83), (56040.5, 26.25), (56043.7, 25.89), (56048, 25.55),
             (56053, 25.33), (56063, 25.09), (56072, 25.05), (56082, 25.14), (56091, 25.36), (56101, 25.69), (56110, 26.07),
             (56120, 26.53), (56129, 27.0), (56139, 27.42), (56148, 27.75), (56161, 28.04), (56177, 28.27),
             (56192.5, 28.46), (56208, 28.6), (56224, 28.7), (56243, 28.88), (56249, 28.96)]
COL_F850LP = [(56045.4, 28.96), (56049, 28.4), (56053, 28.12), (56056.3, 28.04), (56066, 28.0), (56075, 28.04),
              (56085, 28.18), (56088, 28.5), (56091, 28.96)]
COL_PTS_F160W = [(56073.8, 24.74, 0.08), (56084.8, 24.87, 0.08), (56103.8, 25.05, 0.1), (56129.1, 26.79, 0.6),
                 (56144.9, 26.39, 0.45)]
COL_PTS_F125W = [(56073.8, 25.16, 0.08), (56084.2, 25.31, 0.08), (56103.2, 25.54, 0.08)]
COL_LIM = [("F160W", 56018.5, 26.11), ("F160W", 56181.9, 26.04), ("F160W", 56243, 26.11), ("F125W", 56018.5, 26.7),
           ("F125W", 56129.1, 26.97), ("F125W", 56144.9, 26.88), ("F125W", 56181.9, 26.67), ("F125W", 56243, 26.72),
           ("F850LP", 56151.9, 26.39), ("F814W", 56069, 27.15), ("F814W", 56115.8, 27.7), ("F814W", 56129.1, 27.54),
           ("F814W", 56180.3, 27.5), ("F814W", 56200.3, 27.45), ("F350LP", 56018.5, 27.95), ("F350LP", 56073.8, 27.91),
           ("F350LP", 56129.1, 27.64)]
COL_XT = [56050, 56100, 56150, 56200, 56250]
COL_TEXT = ["P(Ia|D)=1.00", "P(Ibc|D)=0.00", "P(II|D)=0.00", r"$z_{SN}$=2.238±0.043", "Best-fit Model:", "Ia(SALT2)",
            r"MJD$_{pk}$=56078", r"$z$=2.238", r"$x_1$=-0.79", r"$\mathit{C}$=-0.0", r"$\beta$=4.1", r"$\chi^2_\nu$=0.5"]

# ---------------- EGS11Tyl ----------------
TYL_F160W = [(55643, 28.35), (55648.4, 27.66), (55653.7, 27.09), (55659, 26.58), (55664, 26.12), (55669, 25.72),
             (55674.5, 25.4), (55680, 25.16), (55687, 24.96), (55694, 24.87), (55701, 24.84), (55708, 24.84),
             (55714.5, 24.86), (55721.5, 24.89), (55728.5, 24.94), (55735, 25.0), (55742, 25.07), (55749, 25.14),
             (55756, 25.2), (55763, 25.25), (55770, 25.29), (55777, 25.3), (55784.4, 25.32)]
TYL_F125W = [(55647, 28.35), (55652, 27.88), (55657, 27.2), (55662, 26.65), (55667.5, 26.19), (55673, 25.79), (55678, 25.5),
             (55685, 25.25), (55692, 25.07), (55699, 24.99), (55706, 24.95), (55714.5, 24.93), (55723, 24.94), (55732, 25.0),
             (55740.6, 25.06), (55749, 25.09), (55758, 25.13), (55767, 25.2), (55775, 25.29), (55784.4, 25.4)]
TYL_F814W = [(55662.3, 28.3), (55669.3, 27.73), (55676.3, 27.16), (55683.3, 26.62), (55690, 26.15), (55697, 25.76),
             (55704, 25.47), (55709.4, 25.32), (55714.5, 25.25), (55718, 25.29), (55721.5, 25.43), (55727, 25.79),
             (55732, 26.51), (55737, 27.59), (55739, 28.3)]
TYL_PTS_F160W = [(55709.4, 24.87, 0.1), (55725.9, 24.99, 0.15)]
TYL_PTS_F125W = [(55709.4, 24.84, 0.08), (55725.9, 24.94, 0.08)]
TYL_LIM = [("F814W", 55656.6, 27.61), ("F814W", 55705.5, 27.4)]
TYL_XT = [55650, 55680, 55710, 55740, 55770]
TYL_TEXT = ["P(Ia|D)=0.24", "P(Ibc|D)=0.07", "P(II|D)=0.68", r"$z_{SN}$=2.244±0.095", "Best-fit Model:", "IIN(SDSS-013449)",
            r"MJD$_{pk}$=55708", r"$z$=2.244", r"$A_V$=0.00", r"$R_V$=3.1", "Δm=-0.5", r"$\chi^2_\nu$=2.2"]

# ---------------- GSD12Hum ----------------
HUM_F160W = [(55936, 29.67), (55940.6, 27.54), (55945.3, 26.37), (55952.3, 25.5), (55959.4, 25.15), (55964, 25.09),
             (55971, 25.15), (55978, 25.35), (55987.5, 25.64), (55997, 25.93), (56011, 26.37), (56025, 26.81), (56040.5, 27.3)]
HUM_F125W = [(55938.3, 29.67), (55943, 27.83), (55947.7, 26.66), (55954.7, 25.79), (55961.7, 25.41), (55968.8, 25.26),
             (55975.8, 25.26), (55982.8, 25.44), (55992, 25.73), (56004, 26.14), (56015.6, 26.52), (56029.7, 26.9),
             (56040.5, 27.25)]
HUM_F850LP = [(55939.7, 29.67), (55945.3, 28.12), (55952.3, 27.1), (55959.4, 26.87), (55966.4, 26.9), (55975.8, 27.19),
              (55987.5, 27.69), (56001.6, 28.27), (56015.6, 28.71), (56029.7, 29.06), (56040.5, 29.29)]
HUM_F814W = [(55941, 29.67), (55947.7, 28.71), (55954.7, 28.21), (55964, 28.12), (55973.4, 28.27), (55982.8, 28.65),
             (55997, 29.15), (56011, 29.58), (56015, 29.67)]
HUM_F350LP = [(55950, 29.67), (55957, 29.47), (55964, 29.41), (55973.4, 29.47), (55980.5, 29.67)]
HUM_PTS_F160W = [(55973, 25.44, 0.1), (55985, 25.55, 0.2), (56009, 26.35, 0.15)]
HUM_PTS_F125W = [(55973, 25.2, 0.08), (55985, 25.67, 0.08), (56009, 26.45, 0.1)]
HUM_LIM = [("F125W", 55921, 26.45), ("F125W", 56019, 25.95), ("F350LP", 55921, 27.5), ("F350LP", 55973.5, 28.45),
           ("F814W", 55924, 27.95), ("F850LP", 56009, 26.8)]
HUM_XT = [55920, 55950, 55980, 56010]
HUM_TEXT = ["P(Ia|D)=0.00", "P(Ibc|D)=0.00", "P(II|D)=0.99", r"$z_{SN}$=2.343±0.001", "Best-fit Model:", "IIP(SDSS-020038)",
            r"MJD$_{pk}$=55965", r"$z$=2.343", r"$A_V$=0.00", r"$R_V$=3.1", "Δm=-1.6", r"$\chi^2_\nu$=0.3"]

# ---------------- GSD12Qua ----------------
QUA_F160W = [(55904.5, 25.65), (55922, 25.35), (55945, 25.15), (55968, 25.06), (55991, 25.09), (56014, 25.21),
             (56037, 25.35), (56061, 25.56)]
QUA_F125W = [(55904.5, 25.85), (55922, 25.56), (55945, 25.35), (55968, 25.29), (55991, 25.32), (56014, 25.44),
             (56037, 25.62), (56061, 25.85)]
QUA_F850LP = [(55904.5, 27.2), (55922, 26.82), (55945, 26.47), (55968, 26.26), (55991, 26.18), (56014, 26.15),
              (56031, 26.0), (56040, 26.15), (56048.6, 27.3), (56054, 28.8), (56058, 29.7)]
QUA_F814W = [(55904.5, 27.85), (55922, 27.44), (55945, 27.03), (55968, 26.76), (55991, 26.59), (56014, 26.44),
             (56034, 26.24), (56043, 26.53), (56051.5, 27.85), (56057, 29.3), (56059, 29.7)]
QUA_F350LP = [(55904.5, 29.12), (55922, 28.79), (55945, 28.38), (55968, 28.0), (55991, 27.65), (56014, 27.32),
              (56026, 27.15), (56034, 27.06), (56043, 27.25), (56051.5, 28.15), (56057, 29.3), (56059, 29.7)]
QUA_F606W = [(55904.5, 29.32), (55922, 28.98), (55945, 28.53), (55968, 28.15), (55991, 27.77), (56014, 27.42),
             (56034, 27.12), (56043, 27.32), (56054, 29.0), (56058, 29.7)]
QUA_PTS_F160W = [(55972.2, 25.06, 0.08), (55984.3, 25.15, 0.1)]
QUA_PTS_F125W = [(55920, 26.38, 0.15), (55972.2, 25.09, 0.08), (55984.3, 25.38, 0.08), (56008.4, 25.38, 0.08),
                 (56018.7, 25.82, 0.08)]
QUA_PTS_F814W = [(55972.8, 26.47, 0.08), (55920, 28.35, 0.3)]
QUA_PTS_F850LP = [(55984.3, 26.7, 0.15), (56008.4, 27.06, 0.5)]
QUA_PTS_F606W = [(55984.3, 26.85, 0.1)]
QUA_LIM = [("F350LP", 55972.8, 27.47)]
QUA_XT = [55920, 55950, 55980, 56010, 56040]
QUA_TEXT = ["P(Ia|D)=0.00", "P(Ibc|D)=0.00", "P(II|D)=1.00", r"$z_{SN}$=2.370±0.001", "Best-fit Model:", "IIN(SDSS-012842)",
            r"MJD$_{pk}$=55980", r"$z$=2.370", r"$A_V$=0.00", r"$R_V$=3.1", "Δm=-0.5", r"$\chi^2_\nu$=1.5"]

# ---------------- styles ----------------
COLORS = {"F160W": "#d55e00", "F125W": "#0072b2", "F105W": "#56b4e9", "F850LP": "#e69f00", "F814W": "#cc79a7",
          "F606W": "#009e73", "F350LP": "black", "F153M": "#a52a2a", "F098M": "#00c8c8", "F139M": "#3a9d4a",
          "F140W": "#009e73", "F127M": "#2f4f4f"}
MARKERS = {"F160W": "D", "F125W": "s", "F105W": "h", "F814W": ">", "F350LP": "o", "F140W": "o", "F850LP": "^",
           "F606W": "<", "F153M": "3", "F098M": "1", "F139M": "4", "F127M": "2"}
MSIZE = {"D": 8, "s": 8, "h": 7.5, ">": 7.5, "o": 7.5, "^": 7.5, "<": 7.5, "1": 8, "2": 8, "3": 8, "4": 8}
MEDIUM = {"F153M", "F139M", "F127M", "F098M"}

plt.rcParams["font.family"] = "Liberation Serif"
plt.rcParams["mathtext.fontset"] = "custom"
plt.rcParams["mathtext.rm"] = "Liberation Serif"
plt.rcParams["mathtext.it"] = "Liberation Serif:italic"
plt.rcParams["mathtext.bf"] = "Liberation Serif:bold"

PANELS = [
    dict(name="COS12Car", curves={"F606W": CAR_F606W, "F814W": CAR_F814W, "F850LP": CAR_F850LP, "F105W": CAR_F105W,
                                  "F125W": CAR_F125W, "F160W": CAR_F160W},
         points={"F160W": CAR_PTS_F160W, "F125W": CAR_PTS_F125W, "F105W": CAR_PTS_F105W}, limits=CAR_LIM,
         legend=["F160W", "F125W", "F105W", "F850LP", "F814W", "F606W"], ncol=3, xticks=CAR_XT,
         xlim=(55885, 56089.5), ylim=(29.25, 22.6), xminor=10, ystep=1, text=CAR_TEXT),
    dict(name="GSD10Pri", curves={"F350LP": PRI_F350LP, "F125W": PRI_F125W, "F160W": PRI_F160W},
         points={"F160W": PRI_PTS_F160W, "F125W": PRI_PTS_F125W, "F350LP": PRI_PTS_F350LP}, limits=PRI_LIM,
         legend=["F160W", "F125W", "F350LP"], ncol=3, xticks=PRI_XT,
         xlim=(55425, 55636), ylim=(28.87, 22.83), xminor=25, ystep=1, text=PRI_TEXT),
    dict(name="EGS13Rut", curves={"F814W": RUT_F814W, "F125W": RUT_F125W, "F160W": RUT_F160W},
         points={"F160W": RUT_PTS_F160W, "F125W": RUT_PTS_F125W, "F814W": RUT_PTS_F814W}, limits=RUT_LIM,
         legend=["F160W", "F125W", "F814W", "F606W"], ncol=4, xticks=RUT_XT,
         xlim=(56410.3, 56553), ylim=(27.97, 23.5), xminor=15, ystep=1, text=RUT_TEXT),
    dict(name="GND13War", curves={"F814W": WAR_F814W, "F850LP": WAR_F850LP, "F125W": WAR_F125W, "F160W": WAR_F160W},
         points={"F160W": WAR_PTS_F160W, "F125W": WAR_PTS_F125W}, limits=WAR_LIM,
         legend=["F160W", "F125W", "F850LP", "F814W"], ncol=4, xticks=WAR_XT,
         xlim=(56377.4, 56634.6), ylim=(28.93, 24.17), xminor=25, ystep=1, text=WAR_TEXT),
    dict(name="GSD11Bus", curves={"F350LP": BUS_F350LP, "F814W": BUS_F814W, "F098M": BUS_F098M, "F105W": BUS_F105W,
                                  "F125W": BUS_F125W, "F127M": BUS_F127M, "F140W": BUS_F140W, "F139M": BUS_F139M,
                                  "F160W": BUS_F160W, "F153M": BUS_F153M},
         points={"F160W": BUS_PTS_F160W, "F125W": BUS_PTS_F125W, "F140W": BUS_PTS_F140W, "F105W": BUS_PTS_F105W,
                 "F153M": BUS_PTS_F153M, "F098M": BUS_PTS_F098M}, limits=BUS_LIM,
         legend=["F153M", "F139M", "F127M", "F098M", "F160W", "F140W", "F125W", "F105W", "F814W", "F350LP"], ncol=4,
         xticks=BUS_XT, xlim=(55749.7, 55885.8), ylim=(29.41, 23.09), xminor=15, ystep=2, text=BUS_TEXT),
    dict(name="UDS10Hug", curves={"F814W": HUG_F814W, "F125W": HUG_F125W, "F160W": HUG_F160W},
         points={"F160W": HUG_PTS_F160W, "F125W": HUG_PTS_F125W, "F814W": HUG_PTS_F814W}, limits=HUG_LIM,
         legend=["F160W", "F125W", "F814W", "F606W"], ncol=4, xticks=HUG_XT,
         xlim=(55513.8, 55712.1), ylim=(28.8, 23.26), xminor=25, ystep=1, text=HUG_TEXT),
    dict(name="GND13Sto", curves={"F350LP": STO_F350LP, "F814W": STO_F814W, "F125W": STO_F125W, "F140W": STO_F140W,
                                  "F139M": STO_F139M, "F160W": STO_F160W, "F153M": STO_F153M},
         points={"F160W": STO_PTS_F160W, "F125W": STO_PTS_F125W, "F140W": STO_PTS_F140W}, limits=STO_LIM,
         legend=["F153M", "F139M", "F160W", "F140W", "F125W", "F814W", "F350LP"], ncol=4, xticks=STO_XT,
         xlim=(56429.1, 56577.8), ylim=(28.83, 23.37), xminor=15, ystep=1, text=STO_TEXT),
    dict(name="GND12Bre", curves={"F350LP": BRE_F350LP, "F814W": BRE_F814W, "F850LP": BRE_F850LP, "F125W": BRE_F125W,
                                  "F160W": BRE_F160W},
         points={"F160W": BRE_PTS_F160W, "F125W": BRE_PTS_F125W, "F814W": BRE_PTS_F814W}, limits=BRE_LIM,
         legend=["F160W", "F125W", "F850LP", "F814W", "F350LP"], ncol=3, xticks=BRE_XT,
         xlim=(56057.8, 56327), ylim=(28.98, 23.95), xminor=25, ystep=1, text=BRE_TEXT),
    dict(name="UDS10Wil", curves={"F814W": WIL_F814W, "F850LP": WIL_F850LP, "F125W": WIL_F125W, "F160W": WIL_F160W},
         points={"F160W": WIL_PTS_F160W, "F125W": WIL_PTS_F125W, "F814W": WIL_PTS_F814W}, limits=WIL_LIM,
         legend=["F160W", "F125W", "F850LP", "F814W"], ncol=4, xticks=WIL_XT,
         xlim=(55489.5, 55632.5), ylim=(28.79, 23.62), xminor=20, ystep=1, text=WIL_TEXT),
    dict(name="GND12Fai", curves={"F350LP": FAI_F350LP, "F814W": FAI_F814W, "F850LP": FAI_F850LP, "F105W": FAI_F105W,
                                  "F125W": FAI_F125W, "F160W": FAI_F160W},
         points={"F160W": FAI_PTS_F160W, "F125W": FAI_PTS_F125W, "F105W": FAI_PTS_F105W, "F350LP": FAI_PTS_F350LP},
         limits=FAI_LIM, legend=["F160W", "F125W", "F105W", "F850LP", "F814W", "F350LP"], ncol=3, xticks=FAI_XT,
         xlim=(56248.6, 56469.7), ylim=(28.6, 22.93), xminor=25, ystep=2, text=FAI_TEXT),
    dict(name="GND12Col", curves={"F850LP": COL_F850LP, "F125W": COL_F125W, "F160W": COL_F160W},
         points={"F160W": COL_PTS_F160W, "F125W": COL_PTS_F125W}, limits=COL_LIM,
         legend=["F160W", "F125W", "F850LP", "F814W", "F350LP"], ncol=3, xticks=COL_XT,
         xlim=(56001.9, 56260.4), ylim=(28.96, 23.9), xminor=25, ystep=1, text=COL_TEXT),
    dict(name="EGS11Tyl", curves={"F814W": TYL_F814W, "F160W": TYL_F160W, "F125W": TYL_F125W},
         points={"F160W": TYL_PTS_F160W, "F125W": TYL_PTS_F125W}, limits=TYL_LIM,
         legend=["F160W", "F125W", "F814W"], ncol=3, xticks=TYL_XT,
         xlim=(55642.3, 55784.4), ylim=(28.3, 24.39), xminor=15, ystep=1, text=TYL_TEXT),
    dict(name="GSD12Hum", curves={"F350LP": HUM_F350LP, "F814W": HUM_F814W, "F850LP": HUM_F850LP, "F125W": HUM_F125W,
                                  "F160W": HUM_F160W},
         points={"F160W": HUM_PTS_F160W, "F125W": HUM_PTS_F125W}, limits=HUM_LIM,
         legend=["F160W", "F125W", "F850LP", "F814W", "F350LP"], ncol=3, xticks=HUM_XT,
         xlim=(55912.5, 56040.5), ylim=(29.67, 24.39), xminor=15, ystep=1, text=HUM_TEXT),
    dict(name="GSD12Qua", curves={"F606W": QUA_F606W, "F350LP": QUA_F350LP, "F814W": QUA_F814W, "F850LP": QUA_F850LP,
                                  "F125W": QUA_F125W, "F160W": QUA_F160W},
         points={"F160W": QUA_PTS_F160W, "F125W": QUA_PTS_F125W, "F814W": QUA_PTS_F814W, "F850LP": QUA_PTS_F850LP,
                 "F606W": QUA_PTS_F606W}, limits=QUA_LIM,
         legend=["F160W", "F125W", "F850LP", "F814W", "F606W", "F350LP"], ncol=3, xticks=QUA_XT,
         xlim=(55904.5, 56061.2), ylim=(29.7, 24.38), xminor=15, ystep=1, text=QUA_TEXT),
]

W, H = 1393, 1375
AW, AH = 273, 181
LEFTS = [50, 509, 968]
TOPS = [52, 332, 612, 892, 1172]

fig = plt.figure(figsize=(W / 100, H / 100), dpi=100)


def marker_kw(f):
    mk = MARKERS[f]
    c = COLORS[f]
    if mk in "1234":
        return dict(marker=mk, ms=MSIZE[mk], mfc=c, mec=c, mew=1.6)
    return dict(marker=mk, ms=MSIZE[mk], mfc=c, mec="black", mew=0.9)


for i, p in enumerate(PANELS):
    row, col = divmod(i, 3)
    L, T = LEFTS[col], TOPS[row]
    ax = fig.add_axes([L / W, 1 - (T + AH) / H, AW / W, AH / H])

    # model light curves with uncertainty band
    for f, pts in p["curves"].items():
        arr = np.array(pts, dtype=float)
        t, m = arr[:, 0], arr[:, 1]
        c = COLORS[f]
        ax.fill_between(t, m - 0.07, m + 0.07, color=c, alpha=0.3, lw=0, zorder=2)
        ax.plot(t, m, color=c, lw=1.4, zorder=3)

    # observed photometry
    for f, pts in p["points"].items():
        arr = np.array(pts, dtype=float)
        c = COLORS[f]
        ax.errorbar(arr[:, 0], arr[:, 1], yerr=arr[:, 2], ls="none", ecolor=c, elinewidth=1.3,
                    capsize=3, capthick=1.3, zorder=6, **marker_kw(f))

    # upper limits
    yr = p["ylim"][0] - p["ylim"][1]
    dy = 17 * yr / AH
    for f, t, m in p["limits"]:
        c = COLORS[f]
        ax.plot([t], [m], marker="_", ms=9, mew=2.2, color=c, zorder=5)
        ax.annotate("", xy=(t, m + dy), xytext=(t, m),
                    arrowprops=dict(arrowstyle="->", color=c, lw=1.3, shrinkA=0, shrinkB=0,
                                    mutation_scale=9), zorder=5)

    ax.set_xlim(*p["xlim"])
    ax.set_ylim(*p["ylim"])
    for s in ("top", "right"):
        ax.spines[s].set_visible(False)
    for s in ("left", "bottom"):
        ax.spines[s].set_linewidth(1.2)
    ax.xaxis.set_major_locator(FixedLocator(p["xticks"]))
    ax.xaxis.set_minor_locator(MultipleLocator(p["xminor"]))
    ax.yaxis.set_major_locator(MultipleLocator(p["ystep"]))
    ax.yaxis.set_minor_locator(MultipleLocator(0.5))
    ax.tick_params(which="both", direction="in", labelsize=10.5, width=1.1)
    ax.tick_params(which="major", length=6)
    ax.tick_params(which="minor", length=3.5)
    ax.tick_params(axis="x", which="both", length=5)
    ax.set_ylabel("Vega mag", fontsize=11)
    ax.yaxis.set_label_coords(-28 / AW, 0.5)
    ax.annotate("MJD :", xy=(0, 0), xycoords="axes fraction", xytext=(-3, -11), textcoords="offset pixels",
                ha="right", va="center", fontsize=11)

    # legend with panel name as title
    handles = []
    for f in p["legend"]:
        c = COLORS[f]
        if f in p["points"] or f in MEDIUM:
            handles.append(Line2D([], [], ls="none", **marker_kw(f)))
        else:
            handles.append(Line2D([], [], color=c, lw=1.4))
    ax.legend(handles, p["legend"], title=p["name"], title_fontsize=13, fontsize=8.5, ncol=p["ncol"],
              loc="upper left", bbox_to_anchor=(30 / AW, 1 + 48 / AH), frameon=False, borderpad=0,
              borderaxespad=0, handlelength=0.9, handletextpad=0.15, columnspacing=0.35, labelspacing=0.6,
              handleheight=0.7)

    # fit summary text
    x0 = (L + AW + 5) / W
    for k, s in enumerate(p["text"]):
        y = T - 46 + k * 17.8 if k < 4 else T + 34 + (k - 4) * 17.8
        fig.text(x0, 1 - y / H, s, fontsize=10.5, va="center", ha="left")

fig.savefig("out.png", dpi=100)
